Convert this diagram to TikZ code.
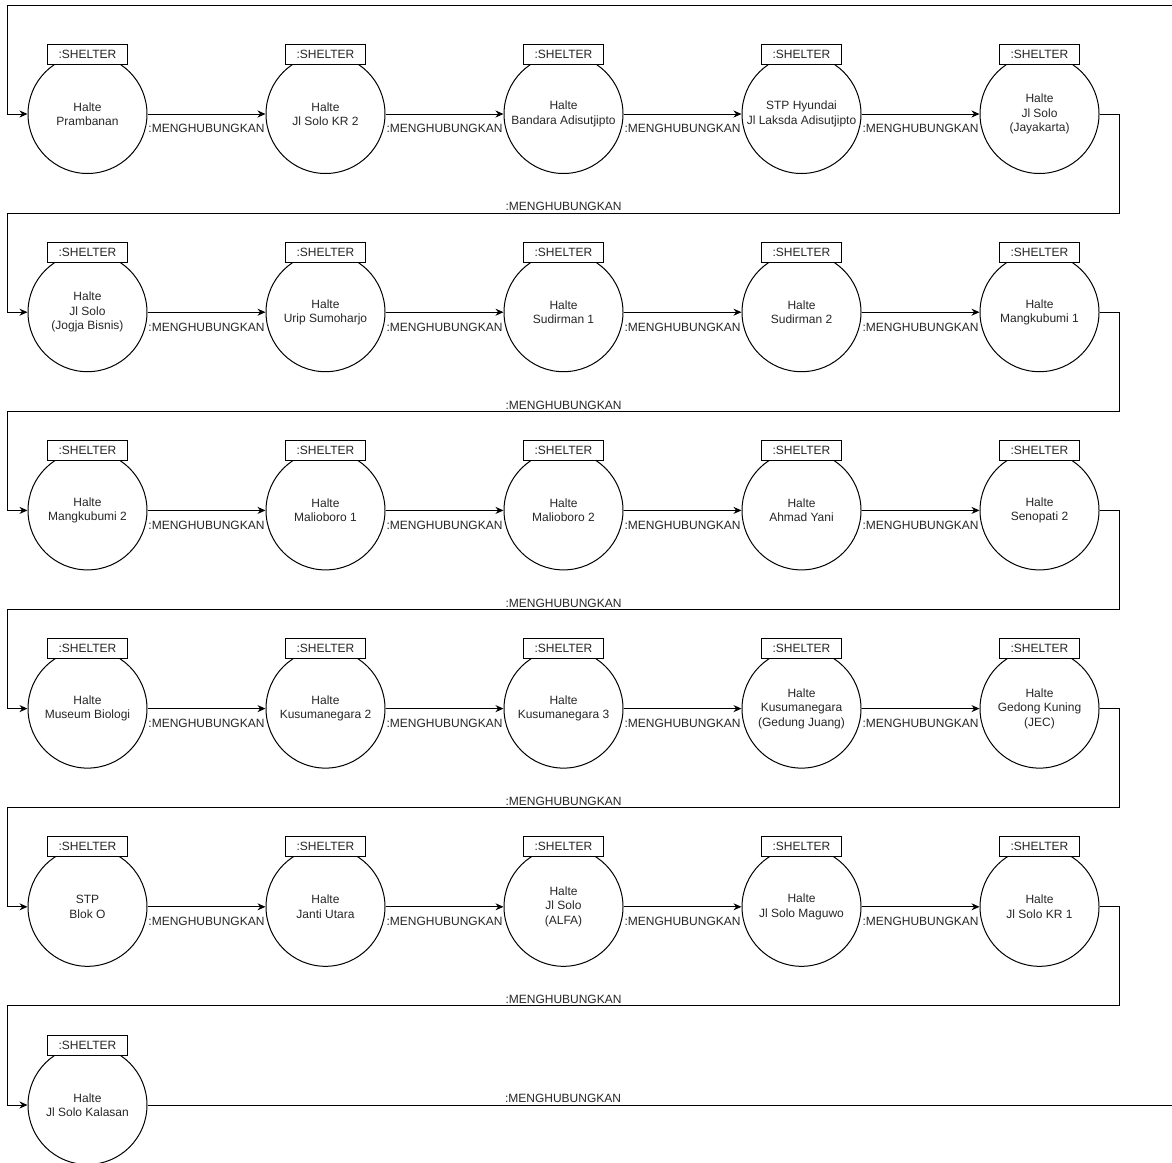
\documentclass[tikz,border=0pt]{standalone}
\usepackage{fontspec}
\setmainfont{Liberation Sans}
\usetikzlibrary{arrows.meta, positioning}

\begin{document}
\begin{tikzpicture}[
  every node/.style={font=\fontsize{12}{14.5}\selectfont, text=black!85},
  node distance=78.2pt and 118pt,
  halte/.style={circle, draw, line width=1pt, minimum size=119pt, inner sep=0pt, align=center},
  shelterbox/.style={draw, fill=white, line width=1pt, minimum width=80pt, minimum height=20pt, inner sep=0pt},
  arrow/.style={-{Stealth[length=8pt, width=7pt]}, line width=1pt},
  relbelow/.style={below=10pt, inner sep=0pt},
  relabove/.style={above=1.5pt, inner sep=0pt}
]
\useasboundingbox (0,0) rectangle (1172pt,-1162pt);

% row 1
\node[halte] (prambanan) at (87.5pt,-114pt) {Halte\\Prambanan};
\node[halte] (solokr2) [right=of prambanan] {Halte\\Jl Solo KR 2};
\node[halte] (bandara) [right=of solokr2] {Halte\\Bandara Adisutjipto};
\node[halte] (hyundai) [right=of bandara] {STP Hyundai\\Jl Laksda Adisutjipto};
\node[halte] (jayakarta) [right=of hyundai] {Halte\\Jl Solo\\(Jayakarta)};

% row 2
\node[halte] (jogjabisnis) [below=of prambanan] {Halte\\Jl Solo\\(Jogja Bisnis)};
\node[halte] (urip) [right=of jogjabisnis] {Halte\\Urip Sumoharjo};
\node[halte] (sudirman1) [right=of urip] {Halte\\Sudirman 1};
\node[halte] (sudirman2) [right=of sudirman1] {Halte\\Sudirman 2};
\node[halte] (mangkubumi1) [right=of sudirman2] {Halte\\Mangkubumi 1};

% row 3
\node[halte] (mangkubumi2) [below=of jogjabisnis] {Halte\\Mangkubumi 2};
\node[halte] (malioboro1) [right=of mangkubumi2] {Halte\\Malioboro 1};
\node[halte] (malioboro2) [right=of malioboro1] {Halte\\Malioboro 2};
\node[halte] (ahmadyani) [right=of malioboro2] {Halte\\Ahmad Yani};
\node[halte] (senopati2) [right=of ahmadyani] {Halte\\Senopati 2};

% row 4
\node[halte] (museum) [below=of mangkubumi2] {Halte\\Museum Biologi};
\node[halte] (kusuma2) [right=of museum] {Halte\\Kusumanegara 2};
\node[halte] (kusuma3) [right=of kusuma2] {Halte\\Kusumanegara 3};
\node[halte] (gedungjuang) [right=of kusuma3] {Halte\\Kusumanegara\\(Gedung Juang)};
\node[halte] (jec) [right=of gedungjuang] {Halte\\Gedong Kuning\\(JEC)};

% row 5
\node[halte] (bloko) [below=of museum] {STP\\Blok O};
\node[halte] (janti) [right=of bloko] {Halte\\Janti Utara};
\node[halte] (alfa) [right=of janti] {Halte\\Jl Solo\\(ALFA)};
\node[halte] (maguwo) [right=of alfa] {Halte\\Jl Solo Maguwo};
\node[halte] (solokr1) [right=of maguwo] {Halte\\Jl Solo KR 1};

% row 6
\node[halte] (kalasan) [below=of bloko] {Halte\\Jl Solo Kalasan};

% object tags
\foreach \n in {prambanan, solokr2, bandara, hyundai, jayakarta,
  jogjabisnis, urip, sudirman1, sudirman2, mangkubumi1,
  mangkubumi2, malioboro1, malioboro2, ahmadyani, senopati2,
  museum, kusuma2, kusuma3, gedungjuang, jec,
  bloko, janti, alfa, maguwo, solokr1, kalasan}
  \node[shelterbox] (\n-tag) at (\n.north) {:SHELTER};

% links inside rows
\draw[arrow] (prambanan) -- node[relbelow] {:MENGHUBUNGKAN} (solokr2);
\draw[arrow] (solokr2) -- node[relbelow] {:MENGHUBUNGKAN} (bandara);
\draw[arrow] (bandara) -- node[relbelow] {:MENGHUBUNGKAN} (hyundai);
\draw[arrow] (hyundai) -- node[relbelow] {:MENGHUBUNGKAN} (jayakarta);

\draw[arrow] (jogjabisnis) -- node[relbelow] {:MENGHUBUNGKAN} (urip);
\draw[arrow] (urip) -- node[relbelow] {:MENGHUBUNGKAN} (sudirman1);
\draw[arrow] (sudirman1) -- node[relbelow] {:MENGHUBUNGKAN} (sudirman2);
\draw[arrow] (sudirman2) -- node[relbelow] {:MENGHUBUNGKAN} (mangkubumi1);

\draw[arrow] (mangkubumi2) -- node[relbelow] {:MENGHUBUNGKAN} (malioboro1);
\draw[arrow] (malioboro1) -- node[relbelow] {:MENGHUBUNGKAN} (malioboro2);
\draw[arrow] (malioboro2) -- node[relbelow] {:MENGHUBUNGKAN} (ahmadyani);
\draw[arrow] (ahmadyani) -- node[relbelow] {:MENGHUBUNGKAN} (senopati2);

\draw[arrow] (museum) -- node[relbelow] {:MENGHUBUNGKAN} (kusuma2);
\draw[arrow] (kusuma2) -- node[relbelow] {:MENGHUBUNGKAN} (kusuma3);
\draw[arrow] (kusuma3) -- node[relbelow] {:MENGHUBUNGKAN} (gedungjuang);
\draw[arrow] (gedungjuang) -- node[relbelow] {:MENGHUBUNGKAN} (jec);

\draw[arrow] (bloko) -- node[relbelow] {:MENGHUBUNGKAN} (janti);
\draw[arrow] (janti) -- node[relbelow] {:MENGHUBUNGKAN} (alfa);
\draw[arrow] (alfa) -- node[relbelow] {:MENGHUBUNGKAN} (maguwo);
\draw[arrow] (maguwo) -- node[relbelow] {:MENGHUBUNGKAN} (solokr1);

% links between rows
\draw[arrow] (jayakarta.east) -- ++(20pt,0)
  |- node[pos=0.75, relabove] {:MENGHUBUNGKAN} ([xshift=-20pt, yshift=99.1pt]jogjabisnis.west)
  |- (jogjabisnis.west);
\draw[arrow] (mangkubumi1.east) -- ++(20pt,0)
  |- node[pos=0.75, relabove] {:MENGHUBUNGKAN} ([xshift=-20pt, yshift=99.1pt]mangkubumi2.west)
  |- (mangkubumi2.west);
\draw[arrow] (senopati2.east) -- ++(20pt,0)
  |- node[pos=0.75, relabove] {:MENGHUBUNGKAN} ([xshift=-20pt, yshift=99.1pt]museum.west)
  |- (museum.west);
\draw[arrow] (jec.east) -- ++(20pt,0)
  |- node[pos=0.75, relabove] {:MENGHUBUNGKAN} ([xshift=-20pt, yshift=99.1pt]bloko.west)
  |- (bloko.west);
\draw[arrow] (solokr1.east) -- ++(20pt,0)
  |- node[pos=0.75, relabove] {:MENGHUBUNGKAN} ([xshift=-20pt, yshift=99.1pt]kalasan.west)
  |- (kalasan.west);

% ends running off the page
\coordinate (topend) at (1172pt,-5pt);
\coordinate (bottomend) at (kalasan.east -| topend);
\draw[arrow] (topend) -| ([xshift=-20pt]prambanan.west) -- (prambanan.west);
\draw[line width=1pt] (kalasan.east) -- node[pos=0.4056, relabove] {:MENGHUBUNGKAN} (bottomend);

\end{tikzpicture}
\end{document}
